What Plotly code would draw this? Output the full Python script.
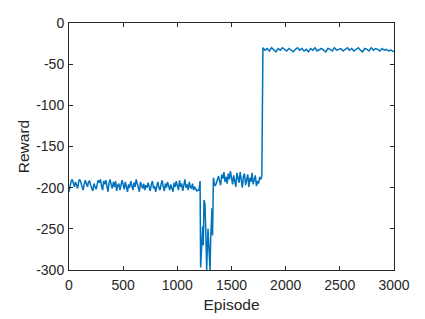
import plotly.graph_objects as go

# Segment 1: episodes 0..1200 step 10
seg1_x = list(range(0, 1201, 10))
seg1_y = [-205, -198, -192, -190, -195, -199, -193, -196, -201, -192,
          -190, -194, -198, -203, -196, -191, -195, -199, -193, -192,
          -197, -201, -204, -195, -199, -202, -196, -191, -194, -190,
          -198, -203, -192, -196, -191, -200, -205, -194, -190, -197,
          -201, -193, -199, -192, -204, -197, -195, -203, -198, -191,
          -196, -202, -193, -199, -205, -196, -200, -192, -197, -203,
          -194, -199, -190, -196, -202, -205, -193, -198, -201, -195,
          -203, -197, -200, -194, -199, -204, -196, -192, -201, -198,
          -205, -197, -193, -200, -203, -196, -191, -199, -204, -195,
          -200, -193, -198, -203, -196, -201, -205, -194, -199, -192,
          -197, -203, -191, -199, -195, -204, -197, -190, -200, -196,
          -203, -193, -199, -201, -195, -203, -199, -202, -204, -203,
          -203]

# Dip region
dip_x = [1210, 1215, 1234, 1240, 1246, 1255, 1262, 1271, 1283, 1290,
         1302, 1308, 1315, 1320, 1325, 1333, 1348]
dip_y = [-192, -297, -247, -270, -215, -220, -250, -300, -250, -265,
         -300, -262, -240, -225, -258, -188, -198]

# Segment 2: episodes 1360..1780 step 10
seg2_x = list(range(1360, 1781, 10))
seg2_y = [-195, -190, -186, -192, -197, -184, -189, -181, -193, -187,
          -195, -183, -190, -180, -188, -196, -185, -191, -199, -182,
          -187, -194, -181, -190, -200, -186, -183, -197, -189, -184,
          -199, -188, -193, -182, -196, -190, -185, -198, -192, -195,
          -187, -190, -186]

# Segment 3: episodes 1790..2990 step 20, then 3000
seg3_x = list(range(1790, 3000, 20)) + [3000]
seg3_y = [-30, -33, -31, -34, -30, -32, -35, -31, -33, -30,
          -32, -34, -31, -33, -35, -32, -30, -33, -31, -34,
          -32, -35, -31, -33, -30, -34, -32, -31, -33, -35,
          -31, -32, -34, -30, -33, -32, -31, -34, -32, -30,
          -33, -31, -34, -32, -30, -33, -35, -31, -32, -34,
          -30, -33, -31, -32, -34, -31, -33, -32, -34, -33,
          -35, -35]

episodes = seg1_x + dip_x + seg2_x + seg3_x
reward = seg1_y + dip_y + seg2_y + seg3_y

x_ticks = [0, 500, 1000, 1500, 2000, 2500, 3000]
y_ticks = [-300, -250, -200, -150, -100, -50, 0]
y_tick_labels = ["-300", "-250", "-200", "-150", "-100", "-50", "0"]

FONT = "Liberation Sans, Arial"
INK = "#262626"

fig = go.Figure()
fig.add_trace(go.Scatter(x=episodes, y=reward, mode="lines",
                         line=dict(color="#0072BD", width=1.5),
                         showlegend=False))

axis_common = dict(showline=True, linecolor=INK, linewidth=1,
                   mirror="ticks", ticks="inside", ticklen=4,
                   tickcolor=INK, showgrid=False, zeroline=False,
                   tickfont=dict(family=FONT, size=14, color=INK))

fig.update_xaxes(range=[0, 3000], tickvals=x_ticks, ticklabelstandoff=2,
                 title=dict(text="Episode", font=dict(family=FONT, size=15.5, color=INK),
                            standoff=7),
                 **axis_common)
fig.update_yaxes(range=[-300, 0], tickvals=y_ticks, ticktext=y_tick_labels,
                 ticklabelstandoff=1,
                 title=dict(text="Reward", font=dict(family=FONT, size=15.5, color=INK),
                            standoff=2),
                 **axis_common)

fig.update_layout(width=417, height=311, paper_bgcolor="white", plot_bgcolor="white",
                  margin=dict(l=61, r=31, t=15, b=49, autoexpand=False))

fig.write_html("out.html")
